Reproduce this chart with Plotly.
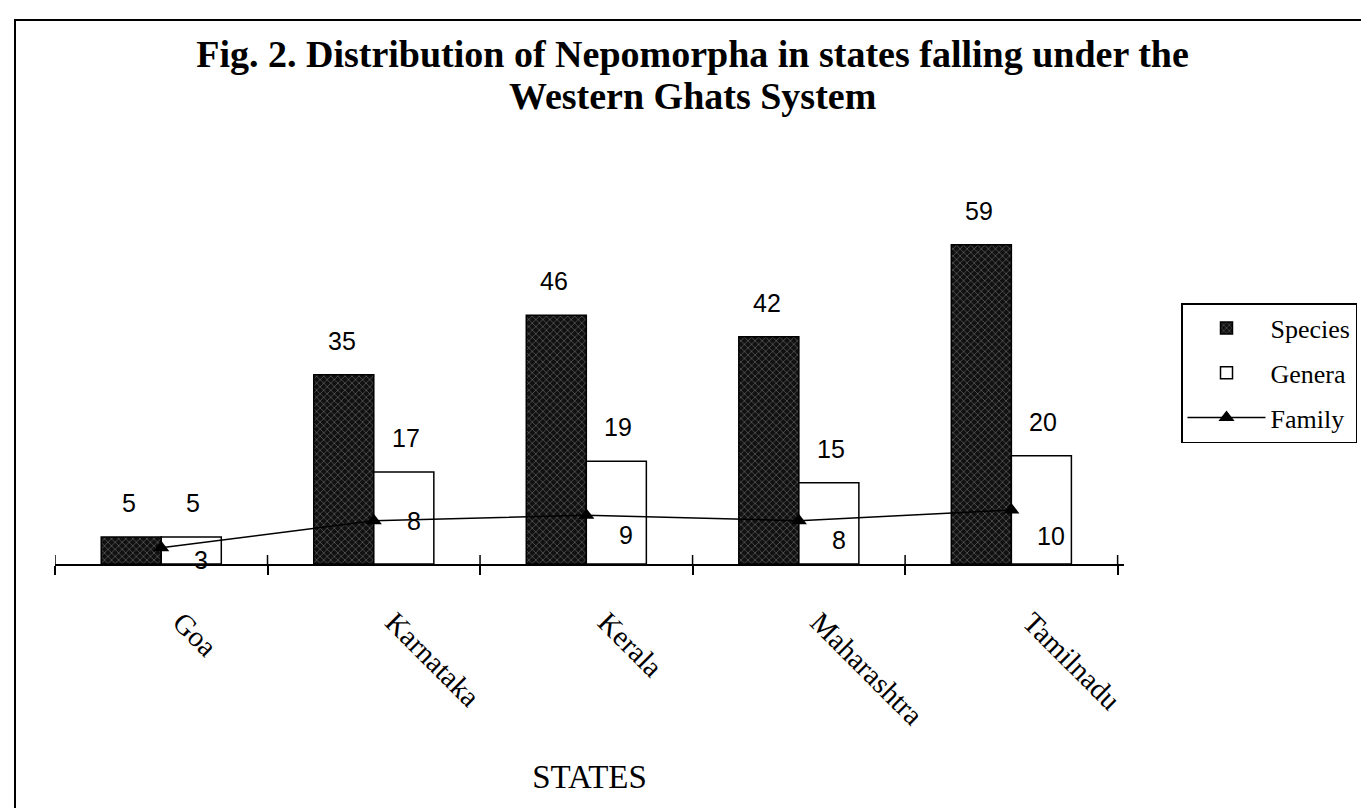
import plotly.graph_objects as go

states = ["Goa", "Karnataka", "Kerala", "Maharashtra", "Tamilnadu"]
species = [5, 35, 46, 42, 59]
genera = [5, 17, 19, 15, 20]
family = [3, 8, 9, 8, 10]
title_lines = ["Fig. 2. Distribution of Nepomorpha in states falling under the",
               "Western Ghats System"]

W, H = 1369, 808
ML, MR, MT, MB = 47, 253, 156, 252
PW, PH = W - ML - MR, H - MT - MB
PX_PER_UNIT = 5.41
YMAX = PH / PX_PER_UNIT
SERIF = "Liberation Serif, Times New Roman"

fig = go.Figure()
fig.add_trace(go.Bar(
    x=states, y=species, name="Species",
    marker=dict(color="#111111", line=dict(color="black", width=1.5),
                pattern=dict(shape="x", fgcolor="#cfcfcf", bgcolor="#111111",
                             size=5, solidity=0.22)),
    legendgroup="a",
))
fig.add_trace(go.Bar(
    x=states, y=genera, name="Genera",
    marker=dict(color="white", line=dict(color="black", width=1.5)),
    legendgroup="b",
))
fig.add_trace(go.Scatter(
    x=states, y=family, name="Family", mode="lines+markers",
    line=dict(color="black", width=1.5),
    marker=dict(symbol="triangle-up", size=14, color="black"),
    legendgroup="c",
))

lab_font = dict(family="Liberation Sans, Arial", size=25, color="black")
for i, s in enumerate(states):
    fig.add_annotation(x=i, y=species[i], xshift=-32, yshift=34, text=str(species[i]),
                       showarrow=False, font=lab_font, xref="x", yref="y")
    fig.add_annotation(x=i, y=genera[i], xshift=32, yshift=34, text=str(genera[i]),
                       showarrow=False, font=lab_font, xref="x", yref="y")
fam_yshift = [-12, 0, -20, -19, -26]
for i, s in enumerate(states):
    fig.add_annotation(x=i, y=family[i], xshift=40, yshift=fam_yshift[i], text=str(family[i]),
                       showarrow=False, font=lab_font, xref="x", yref="y")

# upper half of the category-boundary tick marks (ticks cross the axis line)
for b in range(len(states) + 1):
    fig.add_shape(type="line", xref="x", yref="y", x0=b - 0.5, x1=b - 0.5,
                  y0=0, y1=9 / PX_PER_UNIT, line=dict(color="black", width=1.5))

# second title line (tighter line spacing than Plotly's <br>)
fig.add_annotation(text="<b>" + title_lines[1] + "</b>", showarrow=False,
                   xref="paper", yref="paper", x=(684 - ML) / PW, y=(H - MB - 88) / PH,
                   xanchor="center", yanchor="middle",
                   font=dict(family=SERIF, size=38, color="black"))

# outer frame
fig.add_shape(type="rect", xref="paper", yref="paper",
              x0=(7 - ML) / PW, x1=(1367 - ML) / PW,
              y0=(H - MB - 815) / PH, y1=(H - MB - 12) / PH,
              line=dict(color="black", width=2), fillcolor="rgba(0,0,0,0)")

fig.update_layout(
    width=W, height=H,
    margin=dict(l=ML, r=MR, t=MT, b=MB),
    paper_bgcolor="white", plot_bgcolor="white",
    barmode="group", bargap=0.435, bargroupgap=0,
    title=dict(text="<b>" + title_lines[0] + "</b>",
               x=0.5, xanchor="center", y=1 - 46 / H, yanchor="middle",
               font=dict(family=SERIF, size=38, color="black")),
    legend=dict(x=(1173 - ML) / PW, y=(H - MB - 295) / PH, xanchor="left", yanchor="top",
                bordercolor="black", borderwidth=1.5, bgcolor="white",
                font=dict(family=SERIF, size=26, color="black"),
                traceorder="grouped", tracegroupgap=8, itemwidth=78),
    showlegend=True,
)
fig.update_xaxes(
    range=[-0.5, 4.53], showline=True, linecolor="black", linewidth=1.5,
    ticks="outside", tickson="boundaries", ticklen=9, tickcolor="black", tickwidth=1.5,
    tickangle=45, ticklabelstandoff=28, ticklabelshift=20,
    tickfont=dict(family=SERIF, size=29, color="black"),
    title=dict(text="STATES", standoff=35,
               font=dict(family=SERIF, size=33, color="black")),
    showgrid=False, zeroline=False,
)
fig.update_yaxes(range=[0, YMAX], visible=False, showgrid=False, zeroline=False)

fig.write_html("out.html")
